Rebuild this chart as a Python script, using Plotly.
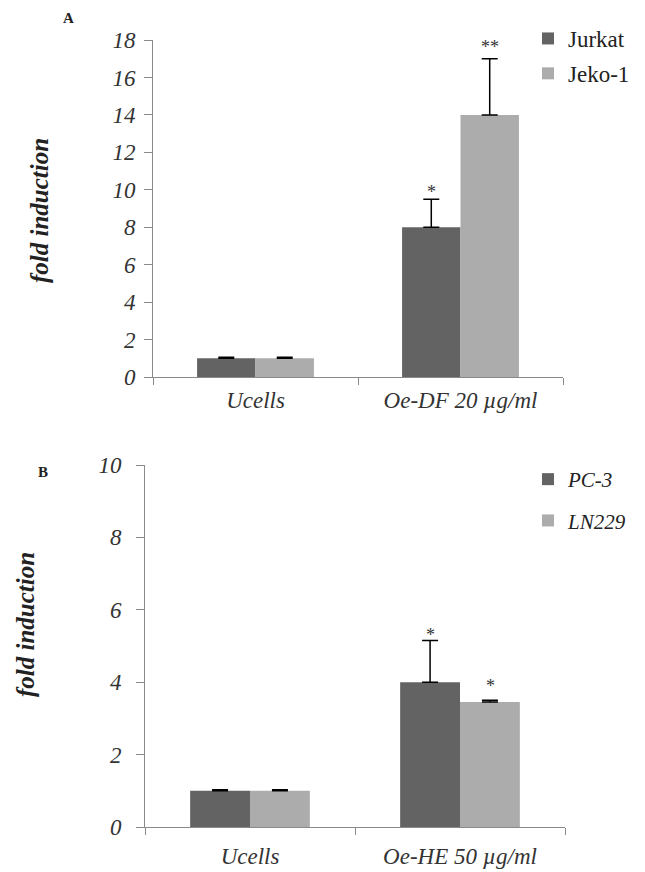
import plotly.graph_objects as go

# Panel A data
categories_a = ["Ucells", "Oe-DF 20 µg/ml"]
jurkat = [1.0, 8.0]
jurkat_err = [0.05, 1.5]
jeko = [1.0, 14.0]
jeko_err = [0.05, 3.0]
stars_jurkat = ["", "*"]
stars_jeko = ["", "**"]

# Panel B data
categories_b = ["Ucells", "Oe-HE 50 µg/ml"]
pc3 = [1.0, 4.0]
pc3_err = [0.03, 1.15]
ln229 = [1.0, 3.45]
ln229_err = [0.03, 0.05]
stars_pc3 = ["", "*"]
stars_ln229 = ["", "*"]

y_title = "fold induction"

DARK = "#636363"
LIGHT = "#acacac"
SERIF = "Liberation Serif"
AXIS = "#8a8a8a"
W, H = 645, 872

fig = go.Figure()


def add_bar(name, cats, vals, errs, color, xa, ya, legend, group):
    fig.add_trace(go.Bar(
        x=cats, y=vals, name=name, xaxis=xa, yaxis=ya,
        marker=dict(color=color, line=dict(width=0)),
        error_y=dict(type="data", symmetric=False, array=errs,
                     arrayminus=[0] * len(errs), color="black",
                     thickness=1.5, width=8),
        legend=legend, legendgroup=group,
    ))


add_bar("Jurkat", categories_a, jurkat, jurkat_err, DARK, "x", "y", "legend", "a1")
add_bar("Jeko-1", categories_a, jeko, jeko_err, LIGHT, "x", "y", "legend", "a2")
add_bar("<i>PC-3</i>", categories_b, pc3, pc3_err, DARK, "x2", "y2", "legend2", "b1")
add_bar("<i>LN229</i>", categories_b, ln229, ln229_err, LIGHT, "x2", "y2", "legend2", "b2")

# significance stars above error bars
annotations = []
for cats, vals, errs, stars, shift, lift, xr, yr in [
    (categories_a, jurkat, jurkat_err, stars_jurkat, -29, -5, "x", "y"),
    (categories_a, jeko, jeko_err, stars_jeko, 29, 0, "x", "y"),
    (categories_b, pc3, pc3_err, stars_pc3, -30, -6, "x2", "y2"),
    (categories_b, ln229, ln229_err, stars_ln229, 30, 2, "x2", "y2"),
]:
    for c, v, e, s in zip(cats, vals, errs, stars):
        if s:
            annotations.append(dict(
                x=c, y=v + e, xref=xr, yref=yr, text=s, showarrow=False,
                xshift=shift, yanchor="bottom", yshift=lift,
                font=dict(family=SERIF, size=18, color="#333"),
            ))

# panel letters and y titles
for letter, lx, ly, tx, ty in [("A", 68, 18, 39, 211), ("B", 43, 472, 25, 625)]:
    annotations.append(dict(
        x=lx / W, y=1 - ly / H, xref="paper", yref="paper", text=f"<b>{letter}</b>",
        xanchor="center", yanchor="middle", showarrow=False,
        font=dict(family=SERIF, size=15, color="#222")))
    annotations.append(dict(
        x=tx / W, y=1 - ty / H, xref="paper", yref="paper", text=y_title,
        textangle=-90, xanchor="center", yanchor="middle", showarrow=False,
        font=dict(family=SERIF, size=25, color="#222", style="italic", weight="bold")))

tickfont = dict(family=SERIF, size=23, color="#333", style="italic")


def xaxis(domain, anchor, standoff):
    return dict(domain=domain, anchor=anchor, type="category", range=[-0.5, 1.5],
                showline=True, linecolor=AXIS, linewidth=1, ticks="outside",
                tickson="boundaries", ticklen=7, tickcolor=AXIS,
                ticklabelstandoff=standoff, automargin=False,
                tickfont=tickfont, showgrid=False, zeroline=False)


def yaxis(domain, anchor, rng, dtick, standoff):
    return dict(domain=domain, anchor=anchor, range=rng, dtick=dtick,
                showline=True, linecolor=AXIS, linewidth=1, ticks="outside",
                ticklen=8, tickcolor=AXIS, tickfont=tickfont, showgrid=False,
                ticklabelstandoff=standoff, zeroline=False, automargin=False)


fig.update_layout(
    width=W, height=H,
    margin=dict(l=0, r=0, t=0, b=0),
    paper_bgcolor="white", plot_bgcolor="white",
    barmode="group", bargap=0.43, bargroupgap=0,
    xaxis=xaxis([153 / W, 563 / W], "y", 2),
    yaxis=yaxis([1 - 377 / H, 1 - 40 / H], "x", [0, 18], 2, 4),
    xaxis2=xaxis([145 / W, 565 / W], "y2", 8),
    yaxis2=yaxis([1 - 827 / H, 1 - 465 / H], "x2", [0, 10], 2, 10),
    legend=dict(x=528 / W, y=1 - 17 / H, xanchor="left", yanchor="top",
                font=dict(family=SERIF, size=23, color="#222"),
                tracegroupgap=2, bgcolor="rgba(0,0,0,0)"),
    legend2=dict(x=528 / W, y=1 - 459 / H, xanchor="left", yanchor="top",
                 font=dict(family=SERIF, size=21, color="#222"),
                 tracegroupgap=11, bgcolor="rgba(0,0,0,0)"),
    annotations=annotations,
    showlegend=True,
)

fig.write_html("out.html", config={"displayModeBar": False},
               post_script="document.body.style.margin='0';")
